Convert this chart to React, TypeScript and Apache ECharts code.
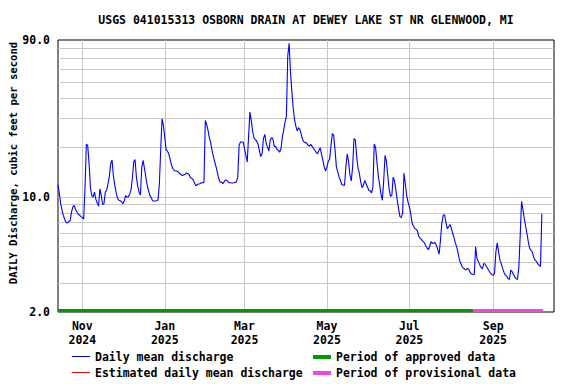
import React, { useEffect, useRef } from 'react';
import * as echarts from 'echarts';

const chartTitle = 'USGS 041015313 OSBORN DRAIN AT DEWEY LAKE ST NR GLENWOOD, MI';
const yAxisTitle = 'DAILY Discharge, cubic feet per second';

// first day of the daily series and the x-axis range (year, monthIndex, day)
const firstDay = [2024, 9, 14];
const axisStart = [2024, 9, 14];
const axisEnd = [2025, 9, 16];

// daily mean discharge, cubic feet per second
const oct2024 = [11.9, 10.5, 9.1, 8.3, 7.7, 7.3, 7.0, 6.95, 7.1, 7.2, 8.1, 8.7, 8.9, 8.4, 8.1, 7.85, 7.75, 7.6];
const nov2024 = [7.5, 7.35, 11.5, 21.0, 20.5, 15.9, 11.4, 10.2, 10.0, 10.7, 9.7, 9.2, 8.8, 11.2, 10.2, 9.0, 9.1, 10.7, 11.0, 12.0, 13.4, 15.9, 16.8, 13.4, 11.8, 10.7, 9.8, 9.55, 9.5, 9.4];
const dec2024 = [9.1, 9.45, 10.2, 10.0, 10.0, 10.4, 11.0, 12.9, 16.3, 16.9, 13.2, 11.6, 10.7, 10.3, 15.2, 16.7, 14.9, 13.2, 11.8, 10.9, 10.2, 9.9, 9.5, 9.45, 9.45, 9.5, 9.6, 12.0, 19.4, 29.9, 27.2];
const jan2025 = [23.1, 19.4, 19.0, 18.2, 16.9, 15.6, 14.9, 14.5, 14.4, 14.4, 14.2, 13.9, 13.7, 13.5, 13.6, 13.7, 14.0, 13.9, 13.7, 13.1, 13.0, 12.7, 12.2, 11.7, 11.9, 12.0, 12.05, 12.2, 12.2, 12.2, 29.2];
const feb2025 = [27.6, 25.4, 22.9, 21.3, 19.2, 17.6, 16.3, 15.2, 14.0, 12.9, 12.3, 12.3, 12.05, 12.4, 12.7, 12.6, 12.3, 12.2, 12.2, 12.1, 12.3, 12.2, 12.4, 13.2, 20.6, 21.6, 21.6, 21.6];
const mar2025 = [19.7, 17.9, 16.3, 23.2, 32.8, 29.2, 25.1, 22.9, 22.3, 21.9, 20.9, 19.2, 17.6, 18.3, 22.6, 24.0, 21.3, 20.1, 19.0, 22.1, 22.9, 22.6, 20.3, 20.3, 19.5, 19.2, 18.7, 19.7, 23.2, 25.5, 28.5];
const apr2025 = [31, 72, 86, 58, 44, 35, 29.5, 27, 25.2, 26.4, 25.8, 23.9, 22.3, 21.6, 21.4, 21.3, 20.6, 20.4, 20.9, 20.3, 19.8, 19.2, 18.7, 18.3, 19.2, 19.9, 18.2, 16.7, 15.2, 14.4];
const may2025 = [15.2, 16.5, 17.0, 20.6, 24.3, 23.7, 19.2, 15.2, 14.2, 13.2, 12.6, 11.9, 11.8, 11.8, 15.2, 18.3, 16.5, 13.7, 12.5, 15.2, 22.6, 22.3, 17.6, 15.0, 13.9, 12.3, 11.4, 11.8, 12.6, 12.05, 11.5];
const jun2025 = [11.0, 10.9, 10.6, 11.5, 21.0, 19.9, 16.3, 13.4, 11.9, 10.4, 9.55, 12.6, 17.9, 16.5, 13.5, 11.2, 10.1, 10.2, 13.2, 12.5, 11.0, 9.55, 8.5, 7.6, 7.5, 8.0, 14.0, 12.0, 10.2, 9.3];
const jul2025 = [8.7, 7.9, 6.95, 6.64, 6.45, 6.35, 6.2, 5.75, 5.6, 5.5, 5.38, 5.28, 5.07, 4.91, 4.78, 5.02, 5.35, 5.22, 5.26, 5.28, 5.07, 4.8, 4.49, 5.46, 6.9, 7.74, 7.8, 7.05, 6.43, 6.58, 6.8];
const aug2025 = [6.5, 6.04, 5.66, 5.26, 4.98, 4.57, 4.17, 3.94, 3.78, 3.7, 3.63, 3.61, 3.68, 3.63, 3.48, 3.4, 3.38, 3.37, 4.98, 4.23, 4.06, 3.88, 3.74, 3.66, 3.94, 3.92, 3.78, 3.66, 3.55, 3.44, 3.37];
const sep2025 = [3.35, 3.43, 4.64, 5.26, 4.64, 4.13, 3.92, 3.68, 3.48, 3.35, 3.3, 3.19, 3.15, 3.59, 3.52, 3.38, 3.27, 3.19, 3.15, 3.77, 5.86, 9.4, 8.4, 7.4, 6.64, 6.0, 5.33, 4.87, 4.75, 4.62];
const oct2025 = [4.29, 4.13, 4.06, 3.92, 3.85, 3.78, 7.9];

// days flagged as estimated (year, monthIndex, day)
const estimatedDays = [[2025, 1, 20]];

// data-status periods
const approvedPeriod = [[2024, 9, 14], [2025, 7, 17]];
const provisionalPeriod = [[2025, 7, 17], [2025, 9, 8]];

// x axis labelled month starts, y axis labels and grid values
const xLabelMonths = [[2024, 10, 1], [2025, 0, 1], [2025, 2, 1], [2025, 4, 1], [2025, 6, 1], [2025, 8, 1]];
const monthNames = ['Jan', 'Feb', 'Mar', 'Apr', 'May', 'Jun', 'Jul', 'Aug', 'Sep', 'Oct', 'Nov', 'Dec'];
const yLabelValues = [2, 10, 90];
const yGridValues = [3, 4, 5, 6, 7, 8, 9, 10, 20, 30, 40, 50, 60, 70, 80];

const FONT = '"DejaVu Sans Mono", "Liberation Mono", monospace';
const DAY_MS = 86400000;

const ts = (d: number[]) => new Date(d[0], d[1], d[2]).getTime();
// day number counted from the first day of the series
const dayNo = (d: number[]) => Math.round((ts(d) - ts(firstDay)) / DAY_MS);
const dayToDate = (n: number) => new Date(firstDay[0], firstDay[1], firstDay[2] + Math.round(n));

export default function App() {
  const ref = useRef<HTMLDivElement>(null);

  useEffect(() => {
    if (!ref.current) return;
    const chart = echarts.init(ref.current, undefined, { renderer: 'svg' });

    const values = [
      ...oct2024, ...nov2024, ...dec2024, ...jan2025, ...feb2025, ...mar2025,
      ...apr2025, ...may2025, ...jun2025, ...jul2025, ...aug2025, ...sep2025, ...oct2025,
    ];
    const estSet = new Set(estimatedDays.map(dayNo));
    const isEst = values.map((_, i) => estSet.has(i));

    const blueData = values.map((v, i) => [i, isEst[i] ? null : v]);
    const redData = values.map((v, i) => {
      const near = isEst[i] || (i > 0 && isEst[i - 1]) || (i < values.length - 1 && isEst[i + 1]);
      return [i, near ? v : null];
    });

    const textBase = { fontFamily: FONT, fontWeight: 'bold' as const, fontSize: 11.5, color: '#000' };
    const xTicks = xLabelMonths.map(dayNo);

    const periodRender = (params: any, api: any) => {
      const start = api.coord([api.value(0), api.value(2)]);
      const end = api.coord([api.value(1), api.value(2)]);
      return {
        type: 'rect',
        shape: { x: start[0], y: start[1] - 3, width: end[0] - start[0], height: 3 },
        style: { fill: api.visual('color') },
      };
    };

    const legendBase = {
      orient: 'horizontal', itemWidth: 18, padding: 0, icon: 'rect', selectedMode: false,
      textStyle: { ...textBase, lineHeight: 14 },
    };

    chart.setOption({
      animation: false,
      backgroundColor: '#fff',
      title: {
        text: chartTitle,
        left: 306,
        top: 13,
        padding: 0,
        textAlign: 'center',
        textStyle: { ...textBase, lineHeight: 14 },
      },
      grid: {
        left: 58, top: 40, width: 496, height: 272,
        outerBoundsMode: 'none',
        containLabel: false,
        show: true, borderColor: '#000', borderWidth: 1, backgroundColor: 'transparent',
      },
      legend: [
        { ...legendBase, left: 72, top: 349.5, itemHeight: 1, data: ['Daily mean discharge'] },
        { ...legendBase, left: 72, top: 365.5, itemHeight: 1, data: ['Estimated daily mean discharge'] },
        { ...legendBase, left: 313, top: 350, itemHeight: 4, data: ['Period of approved data'] },
        { ...legendBase, left: 313, top: 366, itemHeight: 4, data: ['Period of provisional data'] },
      ],
      xAxis: {
        type: 'value',
        min: dayNo(axisStart),
        max: dayNo(axisEnd),
        interval: 1,
        axisLine: { show: false },
        axisTick: { show: false, customValues: xTicks },
        axisLabel: {
          customValues: xTicks,
          formatter: (v: number) => {
            const d = dayToDate(v);
            return monthNames[d.getMonth()] + '\n' + d.getFullYear();
          },
          ...textBase,
          lineHeight: 14,
          margin: 7,
        },
        splitLine: { show: true, lineStyle: { color: '#c8c8c8', width: 1 } },
      },
      yAxis: {
        type: 'log',
        logBase: 10,
        min: 2,
        max: 90,
        name: yAxisTitle,
        nameLocation: 'middle',
        nameGap: 40,
        nameMoveOverlap: false,
        nameTextStyle: { ...textBase, fontSize: 10.6, padding: [0, 0, 0, 26] },
        axisLine: { show: false },
        axisTick: { show: false, customValues: yGridValues },
        axisLabel: {
          customValues: yLabelValues,
          formatter: (v: number) => Number(v).toFixed(1),
          ...textBase,
          margin: 8,
        },
        splitLine: { show: true, lineStyle: { color: '#c8c8c8', width: 1 } },
      },
      series: [
        {
          name: 'Daily mean discharge',
          type: 'line',
          data: blueData,
          showSymbol: false,
          connectNulls: false,
          lineStyle: { color: '#0000ff', width: 1.1 },
          itemStyle: { color: '#0000ff' },
          z: 3,
        },
        {
          name: 'Estimated daily mean discharge',
          type: 'line',
          data: redData,
          showSymbol: false,
          connectNulls: false,
          lineStyle: { color: '#ff0000', width: 1.1 },
          itemStyle: { color: '#ff0000' },
          z: 4,
        },
        {
          name: 'Period of approved data',
          type: 'custom',
          renderItem: periodRender,
          encode: { x: [0, 1], y: 2 },
          itemStyle: { color: '#009900' },
          data: [[dayNo(approvedPeriod[0]), dayNo(approvedPeriod[1]), 2]],
          z: 5,
        },
        {
          name: 'Period of provisional data',
          type: 'custom',
          renderItem: periodRender,
          encode: { x: [0, 1], y: 2 },
          itemStyle: { color: '#f545dd' },
          data: [[dayNo(provisionalPeriod[0]), dayNo(provisionalPeriod[1]), 2]],
          z: 5,
        },
      ],
    });

    return () => chart.dispose();
  }, []);

  return <div ref={ref} style={{ position: 'fixed', left: 0, top: 0, width: 576, height: 384 }} />;
}
